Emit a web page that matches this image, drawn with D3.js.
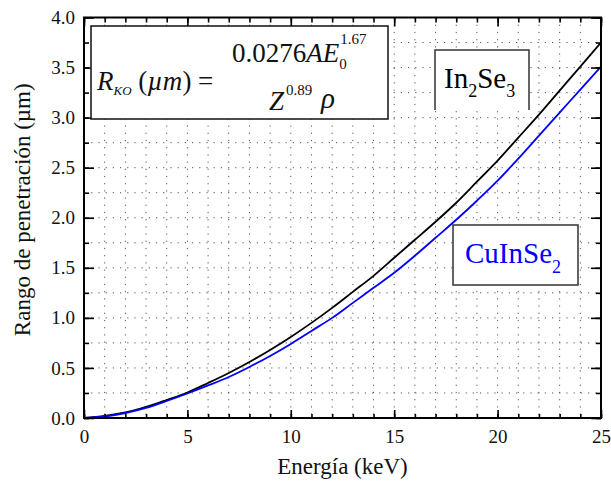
<!DOCTYPE html>
<html>
<head>
<meta charset="utf-8">
<script src="https://cdn.jsdelivr.net/npm/d3@7"></script>
<style>
  body { margin: 0; background: #fff; }
  svg text { font-family: "Liberation Serif", "Times New Roman", Tinos, Times, "DejaVu Serif", "Noto Serif", serif; }
</style>
</head>
<body>
<div id="chart"></div>
<script>
// values (keV -> um)
var energy = [0, 1, 2, 3, 4, 5, 6, 7, 8, 9, 10, 11, 12, 13, 14, 15, 16, 17, 18, 19, 20, 21, 22, 23, 24, 25];
var in2se3 = [0, 0.02, 0.055, 0.11, 0.18, 0.255, 0.35, 0.45, 0.56, 0.68, 0.81, 0.95, 1.10, 1.26, 1.42, 1.60, 1.78, 1.96, 2.15, 2.36, 2.57, 2.80, 3.03, 3.27, 3.51, 3.75];
var cuinse2 = [0, 0.015, 0.05, 0.10, 0.17, 0.245, 0.325, 0.41, 0.51, 0.62, 0.74, 0.87, 1.00, 1.15, 1.30, 1.45, 1.62, 1.80, 1.98, 2.17, 2.37, 2.59, 2.82, 3.05, 3.28, 3.51];

var xMajor = [0, 5, 10, 15, 20, 25];
var xMinor = d3.range(0, 26, 1);
var yMajor = [0, 0.5, 1.0, 1.5, 2.0, 2.5, 3.0, 3.5, 4.0];
var yMinor = d3.range(0, 4.01, 0.25);

var xTitle = "Energía (keV)";
var yTitle = "Rango de penetración (µm)";

var W = 611, H = 485;
var margin = { top: 17.5, right: 10, bottom: 67, left: 84 };
var width = W - margin.left - margin.right,
  height = H - margin.top - margin.bottom;

var svg = d3.select("#chart").append("svg")
  .attr("width", W)
  .attr("height", H);

var g = svg.append("g")
  .attr("transform", "translate(" + margin.left + "," + margin.top + ")");

var x = d3.scaleLinear().domain([0, 25]).range([0, width]);
var y = d3.scaleLinear().domain([0, 4]).range([height, 0]);

// dotted grid
g.append("g").selectAll("line")
  .data(xMinor.slice(1, -1))
  .enter().append("line")
  .attr("x1", function(d) { return x(d); })
  .attr("x2", function(d) { return x(d); })
  .attr("y1", 0).attr("y2", height)
  .attr("stroke", "#555").attr("stroke-width", 1)
  .attr("stroke-dasharray", "1.2,6");

g.append("g").selectAll("line")
  .data(yMinor.slice(1, -1))
  .enter().append("line")
  .attr("x1", 0).attr("x2", width)
  .attr("y1", function(d) { return y(d); })
  .attr("y2", function(d) { return y(d); })
  .attr("stroke", "#555").attr("stroke-width", 1)
  .attr("stroke-dasharray", "1.2,6");

// curves
var line = d3.line()
  .x(function(d, i) { return x(energy[i]); })
  .y(function(d) { return y(d); })
  .curve(d3.curveMonotoneX);

g.append("path").datum(in2se3)
  .attr("d", line).attr("fill", "none")
  .attr("stroke", "#000").attr("stroke-width", 1.8);

g.append("path").datum(cuinse2)
  .attr("d", line).attr("fill", "none")
  .attr("stroke", "#0000ff").attr("stroke-width", 1.8);

// ticks, all pointing in
function styleAxis(sel) {
  sel.attr("font-family", null);
  sel.select(".domain").remove();
  sel.selectAll("line").attr("stroke", "#000").attr("stroke-width", 1.6);
  sel.selectAll("text").attr("font-size", 19).attr("fill", "#111");
}

g.append("g")
  .call(d3.axisLeft(y).tickValues(yMinor).tickSize(-5).tickFormat(""))
  .call(styleAxis);
g.append("g")
  .call(d3.axisLeft(y).tickValues(yMajor).tickSize(-10).tickPadding(9).tickFormat(d3.format(".1f")))
  .call(styleAxis);
g.append("g").attr("transform", "translate(" + width + ",0)")
  .call(d3.axisRight(y).tickValues(yMinor).tickSize(-5).tickFormat(""))
  .call(styleAxis);
g.append("g").attr("transform", "translate(" + width + ",0)")
  .call(d3.axisRight(y).tickValues(yMajor).tickSize(-10).tickFormat(""))
  .call(styleAxis);

g.append("g").attr("transform", "translate(0," + height + ")")
  .call(d3.axisBottom(x).tickValues(xMinor).tickSize(-4).tickFormat(""))
  .call(styleAxis);
g.append("g").attr("transform", "translate(0," + height + ")")
  .call(d3.axisBottom(x).tickValues(xMajor).tickSize(-8).tickPadding(12).tickFormat(d3.format("d")))
  .call(styleAxis);
g.append("g")
  .call(d3.axisTop(x).tickValues(xMinor).tickSize(-5).tickFormat(""))
  .call(styleAxis);
g.append("g")
  .call(d3.axisTop(x).tickValues(xMajor).tickSize(-9).tickFormat(""))
  .call(styleAxis);

// frame
g.append("rect")
  .attr("width", width).attr("height", height)
  .attr("fill", "none").attr("stroke", "#000").attr("stroke-width", 2);

// axis titles
svg.append("text")
  .attr("x", margin.left + width / 2).attr("y", 474)
  .attr("text-anchor", "middle").attr("font-size", 23).attr("fill", "#111")
  .text(xTitle);

svg.append("text")
  .attr("transform", "translate(30," + (margin.top + height / 2 - 8) + ") rotate(-90)")
  .attr("text-anchor", "middle").attr("font-size", 23).attr("fill", "#111")
  .text(yTitle);

// formula box
svg.append("rect")
  .attr("x", 91).attr("y", 26).attr("width", 297).attr("height", 93)
  .attr("fill", "#fff").attr("stroke", "#111").attr("stroke-width", 1.5);

var lhs = svg.append("text").attr("x", 97).attr("y", 90).attr("font-size", 27).attr("fill", "#111");
lhs.append("tspan").attr("font-style", "italic").text("R");
lhs.append("tspan").attr("font-style", "italic").attr("font-size", 13).attr("dy", 5).text("KO");
lhs.append("tspan").attr("dy", -5).text(" (");
lhs.append("tspan").attr("font-style", "italic").text("µm");
lhs.append("tspan").text(") =");

var num = svg.append("text").attr("x", 232).attr("y", 62).attr("font-size", 27).attr("fill", "#111");
num.append("tspan").text("0.0276");
num.append("tspan").attr("font-style", "italic").text("AE");
var nw = num.node().getComputedTextLength();
svg.append("text").attr("x", 232 + nw + 1).attr("y", 44).attr("font-size", 15).attr("fill", "#111").text("1.67");
svg.append("text").attr("x", 232 + nw).attr("y", 69).attr("font-size", 15).attr("fill", "#111").text("0");

svg.append("text").attr("x", 269).attr("y", 110).attr("font-size", 27).attr("font-style", "italic").attr("fill", "#111").text("Z");
svg.append("text").attr("x", 286).attr("y", 95).attr("font-size", 15).attr("fill", "#111").text("0.89");
svg.append("text").attr("x", 321).attr("y", 108).attr("font-size", 29).attr("font-style", "italic").attr("fill", "#111").text("ρ");

// In2Se3 label (box open at bottom)
svg.append("rect")
  .attr("x", 435).attr("y", 50).attr("width", 94).attr("height", 60)
  .attr("fill", "#fff");
svg.append("path")
  .attr("d", "M435,110V50H529V110")
  .attr("fill", "none").attr("stroke", "#333").attr("stroke-width", 1.5);
var t1 = svg.append("text").attr("x", 444).attr("y", 88).attr("font-size", 29).attr("fill", "#000");
t1.append("tspan").text("In");
t1.append("tspan").attr("font-size", 18).attr("dy", 9).text("2");
t1.append("tspan").attr("dy", -9).text("Se");
t1.append("tspan").attr("font-size", 18).attr("dy", 9).text("3");

// CuInSe2 label
svg.append("rect")
  .attr("x", 453).attr("y", 225).attr("width", 125).attr("height", 60)
  .attr("fill", "#fff").attr("stroke", "#333").attr("stroke-width", 1.5);
var t2 = svg.append("text").attr("x", 465).attr("y", 263).attr("font-size", 29).attr("fill", "#0000ff");
t2.append("tspan").text("CuInSe");
t2.append("tspan").attr("font-size", 18).attr("dy", 10).text("2");
</script>
</body>
</html>
